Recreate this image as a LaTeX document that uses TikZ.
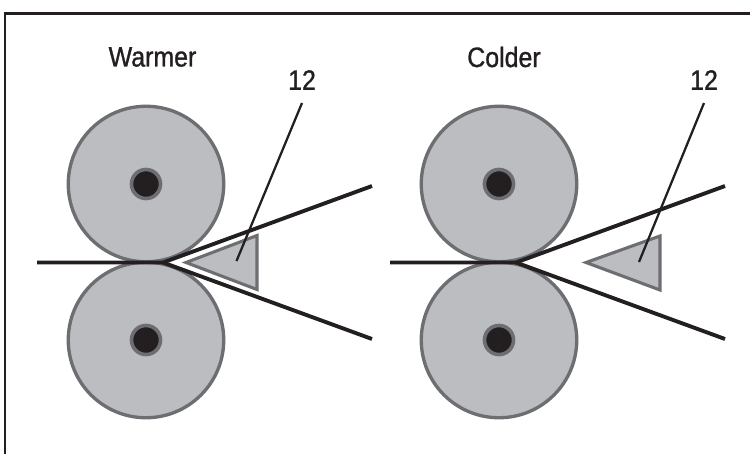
\documentclass[tikz,border=0pt]{standalone}
\usepackage{fontspec}
\setmainfont{Liberation Sans}
\newfontfamily\labfont[FakeBold=1.1]{Liberation Sans}
\definecolor{rollfill}{HTML}{BBBDC0}
\definecolor{rollline}{HTML}{6D6E71}
\definecolor{ink}{HTML}{231F20}
\tikzset{
  roller/.style={circle,draw=rollline,fill=rollfill,line width=2.5pt,minimum size=116.6pt,inner sep=0pt},
  hub/.style={circle,draw=rollline,fill=ink,line width=2.7pt,minimum size=21.8pt,inner sep=0pt},
  web/.style={draw=ink,line width=2.9pt,miter limit=1},
  wedge/.style={draw=rollline,fill=rollfill,line width=2.3pt,miter limit=6},
  leader/.style={draw=ink,line width=1.7pt},
  frameline/.style={draw=ink,line width=2.2pt},
  lab/.style={text=ink,inner sep=0pt,font=\labfont\fontsize{21}{24}\selectfont}
}
\newcommand{\narrow}[1]{\scalebox{.89}[1]{#1}}
\begin{document}
\begin{tikzpicture}[x=.75pt,y=-.75pt]
\useasboundingbox (0,0) rectangle (750,454);
\fill[white] (0,0) rectangle (750,454);
\coordinate (fa) at (5,454); \coordinate (fb) at (5,13.5); \coordinate (fc) at (750,13.5);
\draw[frameline] (fa) -- (fb) -- (fc);
\node[lab] (warmer) at (152.5,57) {\narrow{Warmer}};
\node[lab] (colder) at (504,57) {\narrow{Colder}};
\node[lab] (n1) at (302,80) {\narrow{12}};
\node[lab] (n2) at (704,80) {\narrow{12}};
% left
\node[roller] (lt) at (146,184) {};
\node[roller] (lb) at (146,340) {};
\node[hub] at (lt) {};
\node[hub] at (lb) {};
\coordinate (la) at (186,262.5); \coordinate (lu) at (257,235.5); \coordinate (ld) at (257,289.5);
\draw[wedge] (la) -- (lu) -- (ld) -- cycle;
\coordinate (ls) at (37,262.5); \coordinate (ln) at (163,262.5);
\coordinate (lue) at (372,186); \coordinate (lde) at (372,339);
\draw[web] (ls) -- (ln) -- (lue);
\draw[web] (ln) -- (lde);
\coordinate (ll1) at (302,103); \coordinate (ll2) at (236.5,261);
\draw[leader] (ll1) -- (ll2);
% right
\node[roller] (rt) at (499,184) {};
\node[roller] (rb) at (499,340) {};
\node[hub] at (rt) {};
\node[hub] at (rb) {};
\coordinate (ra) at (586,262.5); \coordinate (ru) at (660,236); \coordinate (rd) at (660,290);
\draw[wedge] (ra) -- (ru) -- (rd) -- cycle;
\coordinate (rs) at (390,262.5); \coordinate (rn) at (516,262.5);
\coordinate (rue) at (725,186); \coordinate (rde) at (725,339);
\draw[web] (rs) -- (rn) -- (rue);
\draw[web] (rn) -- (rde);
\coordinate (rl1) at (704,103); \coordinate (rl2) at (639,262);
\draw[leader] (rl1) -- (rl2);
\end{tikzpicture}
\end{document}
